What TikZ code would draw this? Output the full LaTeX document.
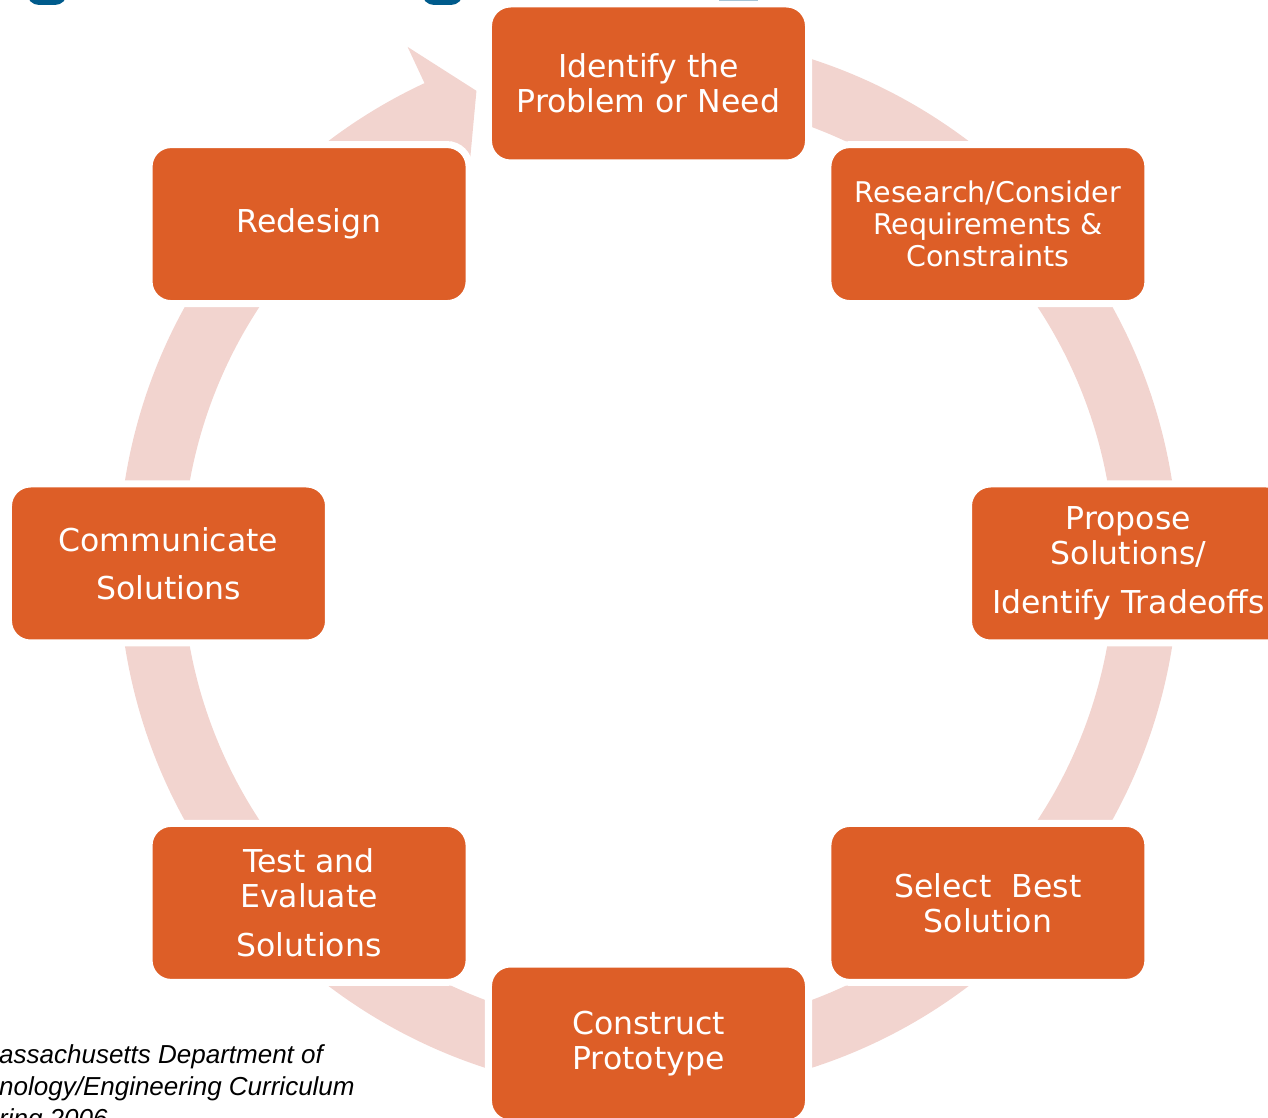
\documentclass[tikz,border=0pt]{standalone}
\usepackage{fontspec}
\setmainfont{DejaVu Sans}
\newfontfamily\notefont{Liberation Sans}
\definecolor{stageorange}{RGB}{221,94,39}
\definecolor{ringpink}{RGB}{242,212,207}
\definecolor{topblue}{RGB}{0,91,140}
\tikzstyle{stage}=[rectangle,rounded corners=22pt,draw=white,line width=7pt,fill=stageorange,text=white,minimum width=320pt,minimum height=159pt,inner sep=0pt,align=center,font=\fontsize{31.5}{35}\selectfont]
\tikzstyle{note}=[anchor=base west,inner sep=0pt,font=\notefont\itshape\fontsize{26}{31}\selectfont]

\begin{document}
\begin{tikzpicture}[x=1pt,y=1pt]
  \useasboundingbox (-648.5,-554.5) rectangle (619.5,563.5);
  \clip (-648.5,-554.5) rectangle (619.5,563.5);
  %cut-off bits along the top edge
  \fill[topblue,rounded corners=12pt] (-621.5,590) rectangle (-581.5,558.5);
  \fill[topblue,rounded corners=12pt] (-226.5,590) rectangle (-185.5,558.5);
  \fill[topblue] (70.5,563.5) rectangle (109.5,561);
  %ring with its arrow head, behind the boxes
  \fill[ringpink] (100:530) arc[start angle=100,end angle=-245,radius=530]
    -- (115:570) -- (110:503) -- (115:426) -- (115:466)
    arc[start angle=-245,end angle=100,radius=466] -- cycle;
  \node[stage] (problem) at (90:480) {Identify the\\Problem or Need};
  \node[stage,font=\fontsize{28.5}{32}\selectfont] (research) at (45:480) {Research/Consider\\Requirements \&\\Constraints};
  \node[stage] (propose) at (0:480) {Propose\\Solutions/\\[14pt]Identify Tradeoffs};
  \node[stage] (select) at (-45:480) {Select\ \ Best\\Solution};
  \node[stage] (construct) at (-90:480) {Construct\\Prototype};
  \node[stage] (test) at (-135:480) {Test and\\Evaluate\\[14pt]Solutions};
  \node[stage] (communicate) at (180:480) {Communicate\\[13pt]Solutions};
  \node[stage] (redesign) at (135:480) {Redesign};
  %source note, bottom left
  \node[note] (note1) at (-649.5,-499.5) {assachusetts Department of};
  \node[note] (note2) at (-649.5,-531.5) {nology/Engineering Curriculum};
  \node[note] (note3) at (-649.5,-563.5) {ring 2006};
\end{tikzpicture}
\end{document}
